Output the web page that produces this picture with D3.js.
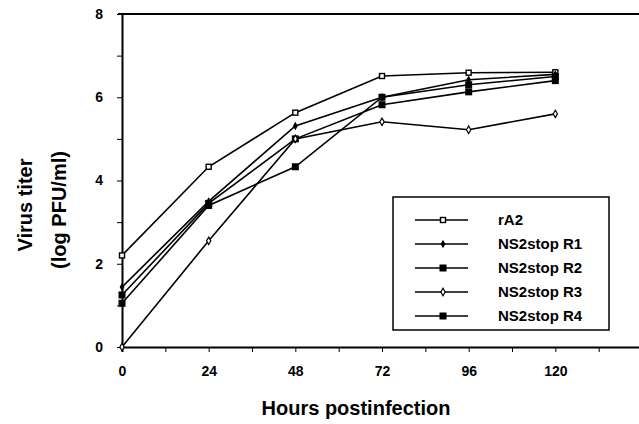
<!DOCTYPE html>
<html>
<head>
<meta charset="utf-8">
<style>
body { margin: 0; background: #fff; }
svg { display: block; font-family: "Liberation Sans", Arial, sans-serif; font-weight: bold; }
</style>
</head>
<body>
<svg id="svg" width="639" height="424"></svg>
<script src="https://cdnjs.cloudflare.com/ajax/libs/d3/7.8.5/d3.min.js"></script>
<script>
// hours and titers
var hours = [0, 24, 48, 72, 96, 120]
var rA2 = [2.2, 4.33, 5.63, 6.51, 6.59, 6.6]
var r1 = [1.44, 3.5, 5.31, 6.0, 6.42, 6.55]
var r2 = [1.25, 3.45, 5.0, 5.82, 6.13, 6.4]
var r3 = [0, 2.55, 5.0, 5.41, 5.22, 5.6]
var r4 = [1.05, 3.4, 4.33, 6.0, 6.3, 6.5]
var seriesNames = ["rA2", "NS2stop R1", "NS2stop R2", "NS2stop R3", "NS2stop R4"]
var markers = ["openSquare", "dot", "square", "openDiamond", "square"]
var xTickLabels = [0, 24, 48, 72, 96, 120]
var yTickLabels = [0, 2, 4, 6, 8]

var series = [rA2, r1, r2, r3, r4].map(function(vals, i) {
  return { name: seriesNames[i], marker: markers[i],
           pts: vals.map(function(v, j) { return { h: hours[j], v: v } }) }
})

var svg = d3.select("#svg")
var x = d3.scaleLinear().domain([0, 144]).range([122, 642])
var y = d3.scaleLinear().domain([0, 8]).range([347, 14])

// top frame line
svg.append("line").attr("x1", 118).attr("x2", 639).attr("y1", 14).attr("y2", 14)
  .attr("stroke", "#000").attr("stroke-width", 2)

// x axis
var xAxis = d3.axisBottom(x).tickValues(d3.range(0, 145, 12)).tickSize(5)
  .tickFormat(function(d) { return xTickLabels.indexOf(d) >= 0 ? d : "" })
var gx = svg.append("g").attr("transform", "translate(0," + y(0) + ")").call(xAxis)
gx.select(".domain").attr("stroke-width", 2)
gx.selectAll("text").attr("font-size", 14).attr("font-weight", "bold").attr("dy", "1.5em")
  .attr("font-family", "Liberation Sans, Arial, sans-serif")

// y axis
var yAxis = d3.axisLeft(y).tickValues(d3.range(0, 9, 1)).tickSize(5).tickSizeOuter(0)
  .tickFormat(function(d) { return yTickLabels.indexOf(d) >= 0 ? d : "" })
var gy = svg.append("g").attr("transform", "translate(" + x(0) + ",0)").call(yAxis)
gy.select(".domain").attr("stroke-width", 2)
gy.selectAll("text").attr("font-size", 14).attr("font-weight", "bold").attr("x", -19)
  .attr("font-family", "Liberation Sans, Arial, sans-serif")

// lines
var line = d3.line().x(function(d) { return x(d.h) }).y(function(d) { return y(d.v) })
svg.selectAll(".ser").data(series).enter().append("path")
  .attr("d", function(d) { return line(d.pts) })
  .attr("fill", "none").attr("stroke", "#000").attr("stroke-width", 1.6)

function drawMarker(g, type, cx, cy) {
  if (type == "openSquare") {
    g.append("rect").attr("x", cx - 2.5).attr("y", cy - 2.5).attr("width", 5).attr("height", 5)
      .attr("fill", "#fff").attr("stroke", "#000").attr("stroke-width", 1.4)
  } else if (type == "square") {
    g.append("rect").attr("x", cx - 3.5).attr("y", cy - 3.5).attr("width", 7).attr("height", 7)
      .attr("fill", "#000")
  } else if (type == "dot") {
    g.append("path").attr("d", d3.symbol(d3.symbolDiamond, 20)()).attr("transform", "translate(" + cx + "," + cy + ")")
      .attr("fill", "#000")
  } else {
    g.append("path").attr("d", d3.symbol(d3.symbolDiamond, 16)()).attr("transform", "translate(" + cx + "," + cy + ")")
      .attr("fill", "#fff").attr("stroke", "#000").attr("stroke-width", 1.2)
  }
}
var mg = svg.append("g")
series.forEach(function(s) {
  s.pts.forEach(function(p) { drawMarker(mg, s.marker, x(p.h), y(p.v)) })
})

// legend
var leg = svg.append("g")
leg.append("rect").attr("x", 393).attr("y", 197).attr("width", 216).attr("height", 133)
  .attr("fill", "#fff").attr("stroke", "#000").attr("stroke-width", 1.5)
series.forEach(function(s, i) {
  var ly = 220 + i * 24
  leg.append("line").attr("x1", 415).attr("x2", 468).attr("y1", ly).attr("y2", ly)
    .attr("stroke", "#000").attr("stroke-width", 1.6)
  drawMarker(leg, s.marker, 443, ly)
  leg.append("text").attr("x", 498).attr("y", ly + 5).attr("font-size", 15).text(s.name)
})

// axis titles
svg.append("text").attr("x", 356).attr("y", 415).attr("text-anchor", "middle")
  .attr("font-size", 20).text("Hours postinfection")
svg.append("text").attr("transform", "translate(32,205) rotate(-90)").attr("text-anchor", "middle")
  .attr("font-size", 20).text("Virus titer")
svg.append("text").attr("transform", "translate(66,210) rotate(-90)").attr("text-anchor", "middle")
  .attr("font-size", 20).text("(log PFU/ml)")
</script>
</body>
</html>
